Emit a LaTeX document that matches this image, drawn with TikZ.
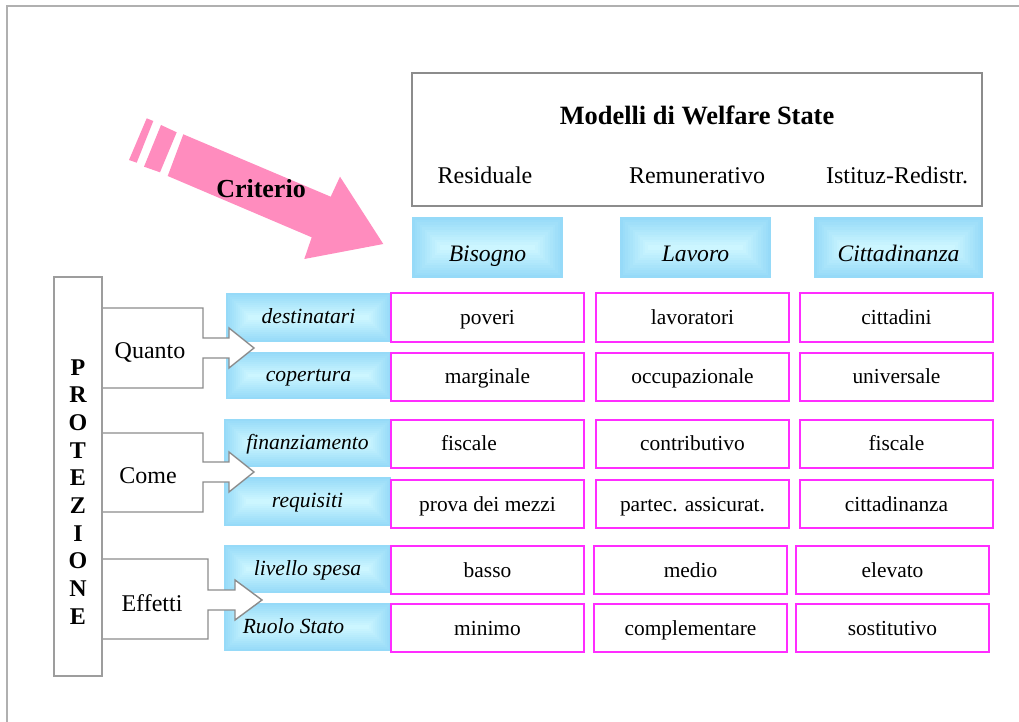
\documentclass[tikz,border=0pt]{standalone}
\usepackage{fontspec}
\setmainfont{Liberation Serif}

\definecolor{framegray}{RGB}{176,176,176}
\definecolor{boxgray}{RGB}{140,140,140}
\definecolor{cellpink}{RGB}{255,45,255}
\definecolor{arrowpink}{RGB}{255,140,190}
\definecolor{edgeblue}{RGB}{150,218,248}
\definecolor{coreblue}{RGB}{204,246,255}

\pgfdeclarelayer{front}
\pgfsetlayers{main,front}

% rectangular gradient: saturated rim, light core
\newcommand\shadedpanel[4]{%
  \foreach \k in {0,...,11}{%
    \pgfmathsetmacro\dd{\k*(#4-#2)/24}%
    \pgfmathtruncatemacro\mixp{100*\k/11}%
    \fill[coreblue!\mixp!edgeblue] ({#1+\dd},{#2+\dd}) rectangle ({#3-\dd},{#4-\dd});
  }}

% name, x1, y1, x2, y2, style, text
\newcommand\panel[7]{%
  \shadedpanel{#2}{#3}{#4}{#5}
  \node[#6, minimum width={(#4-#2)*0.5pt}, minimum height={(#5-#3)*0.5pt}]
    (#1) at ({(#2+#4)/2},{(#3+#5)/2}) {#7};}

% name, x1, y1, x2, y2, text
\newcommand\cell[6]{%
  \node[cellbox, minimum width={(#4-#2)*0.5pt}, minimum height={(#5-#3)*0.5pt}]
    (#1) at ({(#2+#4)/2},{(#3+#5)/2}) {#6};}

% block arrow leaving the PROTEZIONE column: top, bottom, x of bend, x of head, x of tip, y of axis
\newcommand\bracketarrow[6]{%
  \draw[bracket] (prot.east |- 0,#1) -- (#3,#1) -- (#3,{#6-10}) -- (#4,{#6-10})
    -- (#4,{#6-20}) -- (#5,#6) -- (#4,{#6+20}) -- (#4,{#6+10}) -- (#3,{#6+10})
    -- (#3,#2) -- (prot.east |- 0,#2);}

\begin{document}
\begin{tikzpicture}[x=0.5pt,y=-0.5pt,
  cellbox/.style={draw=cellpink, line width=1pt, inner sep=0pt,
    font=\fontsize{10.7}{12}\selectfont, text height=8.5pt, text depth=1.5pt},
  sidelabel/.style={inner sep=0pt, font=\fontsize{10.8}{12}\selectfont\itshape,
    text height=7.5pt, text depth=1.5pt},
  headlabel/.style={inner sep=0pt, font=\fontsize{11.8}{13}\selectfont\itshape,
    text height=16pt, text depth=1.5pt},
  plain/.style={anchor=base, inner sep=0pt, font=\fontsize{12}{14}\selectfont},
  protletter/.style={anchor=base, inner sep=0pt, font=\fontsize{12}{14}\selectfont\bfseries},
  bracket/.style={draw=boxgray, line width=0.7pt, fill=white, line join=miter},
  greybox/.style={draw=boxgray, line width=1pt, inner sep=0pt}]

\useasboundingbox (0,0) rectangle (1019,722);

% page frame
\draw[framegray, line width=1pt] (1019,6) -- (7,6) -- (7,722);

% header block
\node[greybox, minimum width=285pt, minimum height=66.5pt] (models) at (697,139.5) {};
\node[plain, font=\fontsize{13.2}{15}\selectfont\bfseries] (title) at (697,125) {Modelli di Welfare State};
\node[plain] (resid) at (485,184) {Residuale};
\node[plain] (remun) at (697,184) {Remunerativo};
\node[plain] (istit) at (897,184) {Istituz-Redistr.};

% criterion arrow
\fill[arrowpink] (146.7,118.3) -- (153.3,121) -- (136.7,162.7) -- (129,160) -- cycle;
\fill[arrowpink] (161,125) -- (176.7,132.3) -- (160,172.3) -- (144,166.7) -- cycle;
\fill[arrowpink] (183.3,134.3) -- (330.7,196.7) -- (340,176.7) -- (383.3,244)
  -- (304.3,259) -- (311.7,237.3) -- (167.7,176) -- cycle;
\node[plain, font=\fontsize{13}{15}\selectfont\bfseries] (crit) at (261,198) {Criterio};

% criteria
\panel{pbis}{412}{217}{563}{278}{headlabel}{Bisogno}
\panel{plav}{620}{217}{771}{278}{headlabel}{Lavoro}
\panel{pcit}{814}{217}{983}{278}{headlabel}{Cittadinanza}

% dimensions
\panel{pdest}{226}{293}{391}{342}{sidelabel}{destinatari}
\panel{pcop}{226}{352}{391}{399}{sidelabel}{copertura}
\panel{pfin}{224}{419}{391}{467}{sidelabel}{finanziamento}
\panel{preq}{224}{477}{391}{526}{sidelabel}{requisiti}
\panel{pliv}{224}{545}{391}{593}{sidelabel}{livello spesa}
\panel{pruolo}{224}{603}{391}{651}{sidelabel}{\hspace*{-14pt}Ruolo Stato}

% PROTEZIONE column
\begin{pgfonlayer}{front}
\node[greybox, draw=boxgray!85, minimum width=24pt, minimum height=199.5pt] (prot) at (78,476.5) {};
\end{pgfonlayer}
\foreach [count=\i from 0] \ch in {P,R,O,T,E,Z,I,O,N,E}
  \node[protletter] (letter\i) at (78,{375+\i*27.67}) {\ch};

% grouping arrows
\bracketarrow{308}{388}{203}{229}{254}{348}
\bracketarrow{433}{512}{203}{229}{254}{472}
\bracketarrow{559}{639}{208}{235}{262}{600}
\node[plain] (quanto) at (150,358) {Quanto};
\node[plain] (come) at (148,483) {Come};
\node[plain] (effetti) at (152,611) {Effetti};

% table cells
\cell{c11}{391}{293}{584}{342}{poveri}
\cell{c12}{596}{293}{789}{342}{lavoratori}
\cell{c13}{800}{293}{993}{342}{cittadini}

\cell{c21}{391}{353}{584}{401}{marginale}
\cell{c22}{596}{353}{789}{401}{occupazionale}
\cell{c23}{800}{353}{993}{401}{universale}

\cell{c31}{391}{420}{584}{468}{\hspace*{-18.5pt}fiscale}
\cell{c32}{596}{420}{789}{468}{contributivo}
\cell{c33}{800}{420}{993}{468}{fiscale}

\cell{c41}{391}{480}{584}{528}{prova dei mezzi}
\cell{c42}{596}{480}{789}{528}{partec. assicurat.}
\cell{c43}{800}{480}{993}{528}{cittadinanza}

\cell{c51}{391}{546}{584}{594}{basso}
\cell{c52}{594}{546}{787}{594}{medio}
\cell{c53}{796}{546}{989}{594}{elevato}

\cell{c61}{391}{604}{584}{652}{minimo}
\cell{c62}{594}{604}{787}{652}{complementare}
\cell{c63}{796}{604}{989}{652}{sostitutivo}

\end{tikzpicture}
\end{document}
